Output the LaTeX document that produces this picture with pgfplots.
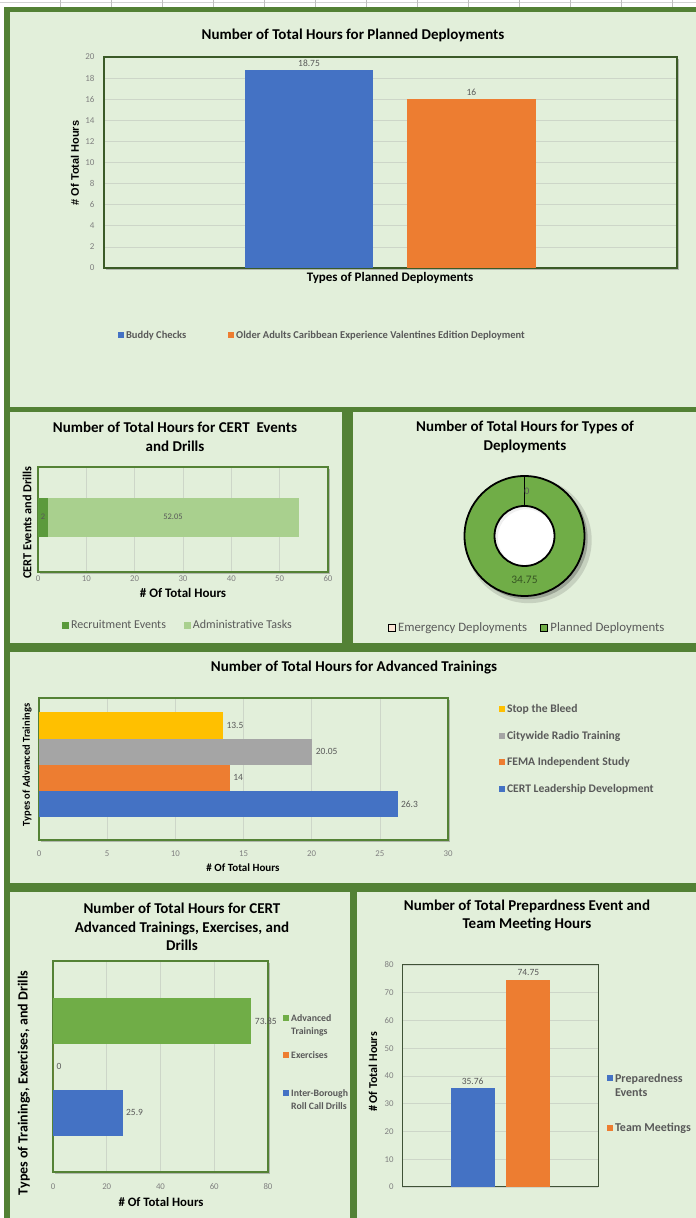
\documentclass[border=0pt]{standalone}
\usepackage{pgfplots}
\pgfplotsset{compat=1.18}
\usepackage{fontspec}
\setmainfont{Carlito}
\newfontfamily\arialf{Liberation Sans}
\usetikzlibrary{shadows}
\definecolor{band}{HTML}{538135}
\definecolor{panel}{HTML}{E2EFDA}
\definecolor{fgreen}{HTML}{548235}
\definecolor{fdark}{HTML}{3B5A27}
\definecolor{fthin}{HTML}{3F5236}
\definecolor{xblue}{HTML}{4472C4}
\definecolor{xorange}{HTML}{ED7D31}
\definecolor{xgray}{HTML}{A5A5A5}
\definecolor{xyellow}{HTML}{FFC000}
\definecolor{xgreen}{HTML}{70AD47}
\definecolor{xlgreen}{HTML}{A9D08E}
\definecolor{xdgreen}{HTML}{5B9A3C}
\definecolor{xcream}{HTML}{FBE5D6}
\definecolor{txt}{HTML}{595959}
\definecolor{tickc}{HTML}{808080}
\definecolor{gridc}{HTML}{CDD6C8}
\definecolor{lbl}{HTML}{375623}
\newcommand\fs[2]{\fontsize{#1}{#2}\selectfont}
\pgfplotsset{
  dash/.style={
    scale only axis, anchor=south west, clip=false,
    axis background/.style={fill=panel, drop shadow={shadow xshift=2pt, shadow yshift=-2pt, opacity=0.5}},
    axis line style={draw=fgreen, line width=2.5pt},
    tick style={draw=none},
    tick label style={font=\fs{8.8}{10}, text=tickc},
    /pgf/number format/assume math mode=true,
    every node near coord/.append style={font=\fs{9.5}{11}, text=txt},
    legend style={draw=none, fill=none, font=\bfseries\fs{11}{13}, text=txt},
    legend image code/.code={\draw[##1,draw=none] (0pt,-3pt) rectangle (6pt,3pt);},
    legend cell align=left,
    grid style={draw=gridc, line width=0.6pt},
  },
}
\begin{document}
\begin{tikzpicture}
\useasboundingbox (0,0) rectangle (696pt,1218pt);
\fill[white] (0,0) rectangle (696pt,1218pt);
\draw[gray!35, line width=0.8pt] (0,1216pt) -- (696pt,1216pt);
\foreach \x in {60,111,...,680} \draw[gray!50, line width=0.6pt] (\x pt,1210pt) -- (\x pt,1218pt);
\fill[band] (4pt,0) rectangle (696pt,1211pt);
\fill[panel] (10pt,811pt) rectangle (696pt,1206pt);
\fill[panel] (10pt,575pt) rectangle (342pt,806pt);
\fill[panel] (353pt,575pt) rectangle (696pt,806pt);
\fill[panel] (10pt,335pt) rectangle (696pt,566pt);
\fill[panel] (10pt,0pt) rectangle (350pt,326pt);
\fill[panel] (357pt,0pt) rectangle (696pt,326pt);

% ---------------- Panel 1
\node[font=\bfseries\fs{15}{18}] at (353pt,1183pt) {Number of Total Hours for Planned Deployments};
\node[font=\arialf\bfseries\fs{11}{13}, rotate=90] at (75pt,1055pt) {\# Of Total Hours};
\node[font=\bfseries\fs{13}{15}] at (390pt,940pt) {Types of Planned Deployments};
\begin{axis}[dash, at={(104pt,950pt)}, width=573pt, height=211pt,
  xmin=-0.262, xmax=3.265, ymin=0, ymax=20, ytick={0,2,...,20}, xtick=\empty,
  ymajorgrids, axis line style={draw=fdark, line width=2.5pt},
  tick label style={font=\fs{9}{10}}, yticklabel style={xshift=-6pt},
  legend columns=2,
  legend style={at={(0.019,-0.318)}, anchor=west, font=\bfseries\fs{10.5}{12}, /tikz/every even column/.append style={column sep=40pt}},
]
\addplot[ybar, bar width=0.788, bar shift=0pt, fill=xblue, draw=none, nodes near coords] coordinates {(1,18.75)};
\addlegendentry{Buddy Checks}
\addplot[ybar, bar width=0.788, bar shift=0pt, fill=xorange, draw=none, nodes near coords] coordinates {(2,16)};
\addlegendentry{Older Adults Caribbean Experience Valentines Edition Deployment}
\end{axis}

% ---------------- Panel 2
\node[font=\bfseries\fs{15}{19}, align=center] at (175pt,781.5pt) {Number of Total Hours for CERT\ \ Events\\and Drills};
\node[font=\bfseries\fs{12.3}{14}, rotate=90] at (27pt,695.5pt) {CERT Events and Drills};
\node[font=\bfseries\fs{13}{15}] at (183pt,625pt) {\# Of Total Hours};
\begin{axis}[dash, at={(38pt,646pt)}, width=290pt, height=105pt,
  xbar stacked, bar width=0.743, xmin=0, xmax=60, xtick={0,10,...,60},
  ymin=-1.04, ymax=0.96, ytick=\empty, xmajorgrids,
  legend columns=2,
  legend style={at={(0.072,-0.505)}, anchor=west, font=\fs{12}{14}, /tikz/every even column/.append style={column sep=16pt}},
  legend image code/.code={\draw[#1,draw=none] (0pt,-3.5pt) rectangle (7pt,3.5pt);},
]
\addplot[fill=xdgreen, draw=none] coordinates {(2,0)};
\addlegendentry{Recruitment Events}
\addplot[fill=xlgreen, draw=none] coordinates {(52.05,0)};
\addlegendentry{Administrative Tasks}
\end{axis}
\node[font=\fs{8.5}{10}, text=txt] at (43pt,701pt) {2};
\node[font=\fs{8.5}{10}, text=txt] at (173pt,701pt) {52.05};

% ---------------- Panel 3 (donut)
\node[font=\bfseries\fs{15}{19}, align=center] at (525pt,781.5pt) {Number of Total Hours for Types of\\Deployments};
\begin{axis}[at={(464.5pt,622pt)}, anchor=south west, scale only axis, width=120pt, height=120pt,
  xmin=-1, xmax=1, ymin=-1, ymax=1, hide axis, clip=false,
  legend columns=2, legend cell align=left,
  legend style={at={(-0.665,-0.267)}, anchor=west, draw=none, fill=none, font=\fs{12.8}{14}, text=txt, /tikz/every even column/.append style={column sep=11pt}},
  legend image code/.code={\draw[#1, line width=1.2pt] (0pt,-3.5pt) rectangle (7pt,3.5pt);},
]
\addlegendimage{fill=xcream, draw=black}
\addlegendentry{Emergency Deployments}
\addlegendimage{fill=xgreen, draw=black}
\addlegendentry{Planned Deployments}
\pgfmathsetmacro\emer{0}
\pgfmathsetmacro\plan{34.75}
\pgfmathsetmacro\angA{90-360*\emer/(\emer+\plan)}
\pgfmathsetmacro\angB{\angA-360*\plan/(\emer+\plan)}
\pgfmathsetmacro\midA{(90+\angA)/2-3}
\pgfmathsetmacro\midB{(\angA+\angB)/2}
\fill[black, opacity=0.12] (axis cs:0.07,-0.07) circle[radius=63pt];
\fill[black, opacity=0.22] (axis cs:0.045,-0.045) circle[radius=60.5pt];
\fill[xgreen, even odd rule] (axis cs:0,0) circle[radius=60pt] (axis cs:0,0) circle[radius=30pt];
\fill[white] (axis cs:0,0) circle[radius=30pt];
\fill[black, opacity=0.06, even odd rule] (axis cs:0,0) circle[radius=30pt] (axis cs:0.03,-0.03) circle[radius=28.5pt];
\draw[black, line width=1.8pt] (axis cs:0,0) circle[radius=60pt] (axis cs:0,0) circle[radius=30pt];
\draw[black, line width=1.6pt] ([shift={(\angA:30pt)}]axis cs:0,0) -- ([shift={(\angA:60pt)}]axis cs:0,0);
\node[font=\fs{10}{12}, text=txt] at ([shift={(\midA:45pt)}]axis cs:0,0) {0};
\node[font=\fs{11.5}{13}, text=lbl] at ([shift={(\midB:44pt)}]axis cs:0,0) {34.75};
\end{axis}

% ---------------- Panel 4
\node[font=\bfseries\fs{15}{18}] at (354pt,550pt) {Number of Total Hours for Advanced Trainings};
\node[font=\bfseries\fs{10.5}{12}, rotate=90] at (27pt,453pt) {Types of Advanced Trainings};
\node[font=\bfseries\fs{11}{13}] at (243pt,350pt) {\# Of Total Hours};
\begin{axis}[dash, at={(39pt,378pt)}, width=409pt, height=142pt,
  xmin=0, xmax=30, xtick={0,5,...,30}, ymin=-0.374, ymax=5.05, ytick=\empty, xmajorgrids,
  xticklabel style={yshift=-7pt},
  reverse legend,
  legend style={at={(1.117,0.985)}, anchor=north west, font=\bfseries\fs{11.6}{13}, row sep=13pt},
]
\addplot[xbar, bar width=1, bar shift=0pt, fill=xblue, draw=none, nodes near coords, nodes near coords align={horizontal}] coordinates {(26.3,1)};
\addlegendentry{CERT Leadership Development}
\addplot[xbar, bar width=1, bar shift=0pt, fill=xorange, draw=none, nodes near coords, nodes near coords align={horizontal}] coordinates {(14,2)};
\addlegendentry{FEMA Independent Study}
\addplot[xbar, bar width=1, bar shift=0pt, fill=xgray, draw=none, nodes near coords, nodes near coords align={horizontal}] coordinates {(20.05,3)};
\addlegendentry{Citywide Radio Training}
\addplot[xbar, bar width=1, bar shift=0pt, fill=xyellow, draw=none, nodes near coords, nodes near coords align={horizontal}] coordinates {(13.5,4)};
\addlegendentry{Stop the Bleed}
\end{axis}

% ---------------- Panel 5
\node[font=\bfseries\fs{15}{18.5}, align=center] at (182pt,291pt) {Number of Total Hours for CERT\\Advanced Trainings, Exercises, and\\Drills};
\node[font=\bfseries\fs{14}{16}, rotate=90] at (24pt,135pt) {Types of Trainings, Exercises, and Drills};
\node[font=\bfseries\fs{12.8}{15}] at (161pt,16pt) {\# Of Total Hours};
\begin{axis}[dash, at={(53pt,46pt)}, width=215pt, height=211pt,
  xmin=0, xmax=80, xtick={0,20,...,80}, ymin=-0.283, ymax=4.30, ytick=\empty, xmajorgrids,
  xticklabel style={yshift=-8pt},
  reverse legend,
  legend style={at={(1.056,0.775)}, anchor=north west, font=\bfseries\fs{9.8}{13}, row sep=24pt},
]
\addplot[xbar, bar width=1, bar shift=0pt, fill=xblue, draw=none, nodes near coords, nodes near coords align={horizontal}] coordinates {(25.9,1)};
\addlegendentry{\begin{tabular}[t]{@{}l@{}}Inter-Borough\\Roll Call Drills\end{tabular}}
\addplot[xbar, bar width=1, bar shift=0pt, fill=xorange, draw=none, nodes near coords, nodes near coords align={horizontal}] coordinates {(0,2)};
\addlegendentry{Exercises}
\addplot[xbar, bar width=1, bar shift=0pt, fill=xgreen, draw=none, nodes near coords, nodes near coords align={horizontal}] coordinates {(73.85,3)};
\addlegendentry{\begin{tabular}[t]{@{}l@{}}Advanced\\Trainings\end{tabular}}
\end{axis}

% ---------------- Panel 6
\node[font=\bfseries\fs{15}{18}, align=center] at (527pt,302pt) {Number of Total Prepardness Event and\\Team Meeting Hours};
\node[font=\bfseries\fs{12}{14}, rotate=90] at (373pt,146pt) {\# Of Total Hours};
\begin{axis}[dash, at={(402pt,31pt)}, width=196pt, height=222pt,
  xmin=-0.268, xmax=3.25, xtick=\empty, ymin=0, ymax=80, ytick={0,10,...,80}, ymajorgrids,
  yticklabel style={xshift=-5pt},
  axis line style={draw=fthin, line width=1pt}, axis background/.style={fill=panel},
  legend style={at={(1.03,0.535)}, anchor=north west, font=\bfseries\fs{12}{14}, row sep=35pt},
]
\addplot[ybar, bar width=0.786, bar shift=0pt, fill=xblue, draw=none, nodes near coords] coordinates {(1,35.76)};
\addlegendentry{\begin{tabular}[t]{@{}l@{}}Preparedness\\Events\end{tabular}}
\addplot[ybar, bar width=0.786, bar shift=0pt, fill=xorange, draw=none, nodes near coords] coordinates {(2,74.75)};
\addlegendentry{Team Meetings}
\end{axis}
\end{tikzpicture}
\end{document}
